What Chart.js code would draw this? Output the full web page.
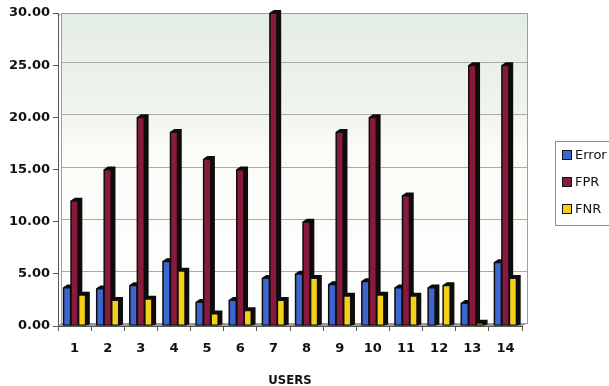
<!DOCTYPE html>
<html>
<head>
<meta charset="utf-8">
<script src="https://cdn.jsdelivr.net/npm/chart.js@4.4.0/dist/chart.umd.min.js"></script>
<style>
  html, body { margin: 0; padding: 0; background: #ffffff; overflow: hidden; }
  #wrap { width: 640px; height: 386px; }
</style>
</head>
<body>
<div id="wrap"><canvas id="c" width="640" height="386"></canvas></div>
<script>
// Per-user rates (%)
const users = ['1', '2', '3', '4', '5', '6', '7', '8', '9', '10', '11', '12', '13', '14'];
const errorRate = [3.7, 3.6, 3.9, 6.2, 2.3, 2.5, 4.6, 5.0, 4.0, 4.3, 3.7, 3.7, 2.2, 6.1];
const fprRate = [12.0, 15.0, 20.0, 18.6, 16.0, 15.0, 30.0, 10.0, 18.6, 20.0, 12.5, 0.0, 25.0, 25.0];
const fnrRate = [3.0, 2.5, 2.6, 5.3, 1.2, 1.5, 2.5, 4.6, 2.9, 3.0, 2.9, 3.9, 0.3, 4.6];
const seriesNames = ['Error', 'FPR', 'FNR'];
const seriesColors = ['#3d66cf', '#8a1a3c', '#f4d01a'];
const yMin = 0, yMax = 30, yStep = 5;

const TICK_FONT = "'DejaVu Sans', Arial, sans-serif";
const DEPTH = 4; // pseudo-3D depth of bars, px

// Back wall, gridlines and floor
const wallPlugin = {
  id: 'wall',
  beforeDraw(chart) {
    const { ctx, chartArea: a, scales } = chart;
    ctx.save();
    ctx.fillStyle = '#ffffff';
    ctx.fillRect(0, 0, chart.width, chart.height);

    const left = a.left + 3, right = a.right + 6, top = a.top, bottom = a.bottom - 3;
    const g = ctx.createLinearGradient(0, top, 0, bottom);
    g.addColorStop(0, '#e3ede3');
    g.addColorStop(0.3, '#eff4ec');
    g.addColorStop(0.45, '#fbfcf8');
    g.addColorStop(1, '#fefefd');
    ctx.fillStyle = g;
    ctx.fillRect(left, top, right - left, bottom - top);

    // gridlines on the wall
    ctx.strokeStyle = '#a9aba5';
    ctx.lineWidth = 1;
    scales.y.ticks.forEach(t => {
      if (t.value === yMin) return;
      const y = Math.max(Math.round(scales.y.getPixelForValue(t.value) - 3) + 0.5, top + 0.5);
      ctx.beginPath();
      ctx.moveTo(left, y);
      ctx.lineTo(right, y);
      ctx.stroke();
    });

    // wall outline
    ctx.strokeStyle = '#9c9e98';
    ctx.strokeRect(left + 0.5, top + 0.5, right - left - 1, bottom - top);
    ctx.beginPath();
    ctx.moveTo(a.left + 0.5, top + 3);
    ctx.lineTo(left + 0.5, top + 0.5);
    ctx.stroke();

    // floor
    ctx.fillStyle = '#9a9c98';
    ctx.beginPath();
    ctx.moveTo(a.left, a.bottom);
    ctx.lineTo(a.right, a.bottom);
    ctx.lineTo(right, bottom);
    ctx.lineTo(left, bottom);
    ctx.closePath();
    ctx.fill();
    ctx.restore();
  }
};

// Dark side and top faces behind every bar
const bar3dPlugin = {
  id: 'bar3d',
  beforeDatasetsDraw(chart) {
    const { ctx } = chart;
    ctx.save();
    ctx.fillStyle = '#0d0b0b';
    chart.data.datasets.forEach((ds, i) => {
      const meta = chart.getDatasetMeta(i);
      meta.data.forEach((bar, j) => {
        if (!ds.data[j]) return;
        const p = bar.getProps(['x', 'y', 'base', 'width'], true);
        const l = p.x - p.width / 2, r = p.x + p.width / 2;
        ctx.beginPath();
        ctx.moveTo(l - 0.5, p.y);
        ctx.lineTo(l + DEPTH, p.y - DEPTH + 1);
        ctx.lineTo(r + DEPTH, p.y - DEPTH + 1);
        ctx.lineTo(r + DEPTH, p.base - 1);
        ctx.lineTo(r, p.base);
        ctx.lineTo(l - 0.5, p.base);
        ctx.closePath();
        ctx.fill();
      });
    });
    ctx.restore();
  }
};

// Boxed legend at the right
const legendPlugin = {
  id: 'boxLegend',
  afterDraw(chart) {
    const { ctx } = chart;
    const x0 = 555, y0 = 141, w = 100, h = 84;
    ctx.save();
    ctx.fillStyle = '#ffffff';
    ctx.fillRect(x0, y0, w, h);
    ctx.strokeStyle = '#8e8e8e';
    ctx.lineWidth = 1;
    ctx.strokeRect(x0 + 0.5, y0 + 0.5, w, h);
    ctx.font = "13px " + TICK_FONT;
    ctx.textBaseline = 'middle';
    chart.data.datasets.forEach((ds, i) => {
      const cy = 155 + i * 27;
      ctx.fillStyle = ds.backgroundColor;
      ctx.fillRect(563, cy - 4, 8, 8);
      ctx.strokeStyle = '#111';
      ctx.strokeRect(562.5, cy - 4.5, 9, 9);
      ctx.fillStyle = '#111';
      ctx.fillText(ds.label, 575, cy + 1);
    });
    ctx.restore();
  }
};

const datasets = [errorRate, fprRate, fnrRate].map((vals, i) => ({
  label: seriesNames[i],
  data: vals,
  backgroundColor: seriesColors[i],
  borderColor: '#111111',
  borderWidth: 1,
  borderSkipped: false,
  categoryPercentage: 0.68,
  barPercentage: 1.0
}));

new Chart(document.getElementById('c'), {
  type: 'bar',
  data: { labels: users, datasets },
  plugins: [wallPlugin, bar3dPlugin, legendPlugin],
  options: {
    responsive: false,
    animation: false,
    layout: { padding: { left: 0, right: 118, top: 13, bottom: 0 } },
    plugins: { legend: { display: false }, tooltip: { enabled: false } },
    scales: {
      x: {
        offset: true,
        grid: { drawOnChartArea: false, tickLength: 5, color: '#555555', offset: true },
        border: { color: '#555555' },
        ticks: { color: '#111111', padding: 10, font: { family: TICK_FONT, size: 13, weight: 'bold' } },
        title: {
          display: true, text: 'USERS', color: '#111111',
          font: { family: "'Liberation Sans Narrow', 'DejaVu Sans Condensed', Arial, sans-serif", size: 13, weight: 'bold' },
          padding: { top: 0, bottom: -2 }
        },
        afterFit(s) { s.height = 60; }
      },
      y: {
        min: yMin, max: yMax,
        grid: { drawOnChartArea: false, tickLength: 5, color: '#555555' },
        border: { color: '#555555' },
        ticks: {
          stepSize: yStep, color: '#111111', padding: 3,
          font: { family: TICK_FONT, size: 13, weight: 'bold' },
          callback: v => Number(v).toFixed(2)
        },
        afterFit(s) { s.width = 58; }
      }
    }
  }
});
</script>
</body>
</html>
